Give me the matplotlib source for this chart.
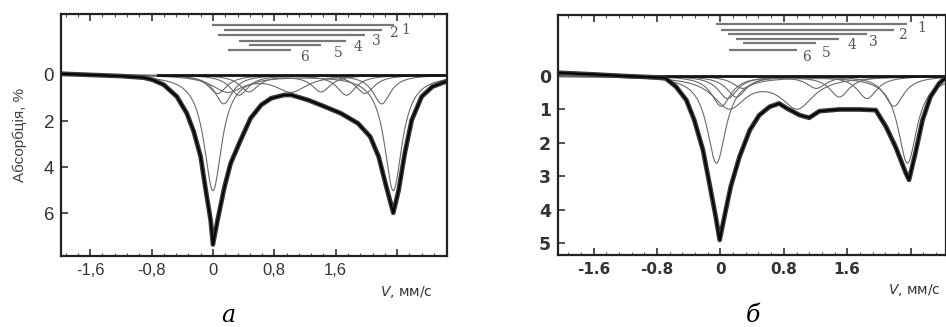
import numpy as np
import matplotlib
matplotlib.use("Agg")
import matplotlib.pyplot as plt
from matplotlib.ticker import FixedLocator, MultipleLocator

plt.rcParams['font.family'] = ['DejaVu Sans']

# ---------------- panel a data ----------------
a_env_v = [-1.98, -1.6, -1.2, -0.9, -0.78, -0.64, -0.47, -0.34, -0.25, -0.16, -0.1,
           -0.03, 0.0, 0.06, 0.15, 0.23, 0.36, 0.49, 0.63, 0.76, 0.93, 1.02, 1.24,
           1.46, 1.67, 1.89, 2.05, 2.16, 2.26, 2.35, 2.42, 2.5, 2.59, 2.72, 2.86, 3.05]
a_env_abs = [-0.05, 0.0, 0.05, 0.12, 0.22, 0.43, 0.94, 1.67, 2.46, 3.55, 4.86,
             6.3, 7.35, 6.3, 4.86, 3.84, 2.83, 1.88, 1.3, 1.01, 0.87, 0.87, 1.09,
             1.38, 1.67, 2.1, 2.68, 3.55, 4.86, 5.98, 5.0, 3.4, 1.96, 0.94, 0.51, 0.27]
a_left = [0.0, 0.14, 0.06, 0.34, 0.47, 0.19]
a_right = [2.35, 2.2, 1.98, 1.74, 1.41, 1.02]
a_depth = [5.0, 1.25, 0.8, 0.87, 0.72, 0.7]
a_fwhm = [0.28, 0.28, 0.3, 0.3, 0.3, 0.5]
a_stick_y = [-2.17, -1.93, -1.74, -1.49, -1.3, -1.06]
a_stick_x0 = [-0.01, 0.14, 0.06, 0.34, 0.47, 0.19]
a_stick_x1 = [2.36, 2.2, 1.98, 1.74, 1.41, 1.02]
a_lab_x = [2.46, 2.29, 2.07, 1.83, 1.57, 1.14]
a_lab_y = [-1.96, -1.81, -1.45, -1.23, -0.97, -0.79]
a_xticklabels = ["-1,6", "-0,8", "0", "0,8", "1,6", ""]

# ---------------- panel b data ----------------
b_env_v = [-2.05, -1.6, -1.2, -0.7, -0.56, -0.43, -0.33, -0.22, -0.14, -0.06, -0.01,
           0.05, 0.13, 0.24, 0.37, 0.49, 0.62, 0.74, 0.84, 1.0, 1.12, 1.25, 1.5,
           1.75, 1.96, 2.09, 2.21, 2.34, 2.38, 2.46, 2.55, 2.65, 2.76, 2.84]
b_env_abs = [-0.1, -0.05, 0.0, 0.05, 0.32, 0.72, 1.32, 2.22, 3.21, 4.21, 4.91,
             4.21, 3.31, 2.42, 1.62, 1.17, 0.92, 0.82, 0.97, 1.17, 1.25, 1.05, 1.0,
             1.0, 1.02, 1.52, 2.12, 2.91, 3.11, 2.31, 1.32, 0.62, 0.22, 0.05]
b_left = [-0.05, 0.01, 0.09, 0.2, 0.28, 0.11]
b_right = [2.36, 2.19, 1.85, 1.5, 1.21, 0.97]
b_depth = [2.6, 0.9, 0.67, 0.62, 0.36, 0.92]
b_fwhm = [0.29, 0.3, 0.3, 0.3, 0.3, 0.5]
b_stick_y = [-1.55, -1.38, -1.25, -1.11, -0.98, -0.78]
b_stick_x0 = [-0.05, 0.01, 0.09, 0.2, 0.28, 0.11]
b_stick_x1 = [2.36, 2.19, 1.85, 1.5, 1.21, 0.97]
b_lab_x = [2.48, 2.24, 1.88, 1.6, 1.28, 1.03]
b_lab_y = [-1.43, -1.23, -1.03, -0.93, -0.7, -0.56]
b_xticklabels = ["-1.6", "-0.8", "0", "0.8", "1.6", ""]

stick_names = ["1", "2", "3", "4", "5", "6"]
xticks = [-1.6, -0.8, 0.0, 0.8, 1.6, 2.4]

W, H = 946, 327
fig = plt.figure(figsize=(W / 100, H / 100), dpi=100)


def lorentz_doublet(v, c1, c2, d, w):
    g = (w / 2.0) ** 2
    return d * g / ((v - c1) ** 2 + g) + d * g / ((v - c2) ** 2 + g)


def panel(rect, xlim, ylim, env_v, env_abs, left, right, depth, fwhm,
          sy, sx0, sx1, lx, ly, xtl, yticks, tick_fs, ytick_fs, bold, fam):
    ax = fig.add_axes(rect)
    v = np.linspace(xlim[0], xlim[1], 1500)
    for c1, c2, d, w in zip(left, right, depth, fwhm):
        ax.plot(v, lorentz_doublet(v, c1, c2, d, w), color="#6a6a6a", lw=0.8)
    ax.axhline(0, xmin=0.25, xmax=1.0, color="#111111", lw=2.0)
    ax.plot(env_v, env_abs, color="#3a3a3a", lw=3.4, solid_joinstyle="round")
    ax.plot(env_v, env_abs, color="#000000", lw=1.3)
    for y, x0, x1 in zip(sy, sx0, sx1):
        ax.plot([x0, x1], [y, y], color="#777777", lw=1.6, solid_capstyle="butt")
    for x, y, s in zip(lx, ly, stick_names):
        ax.text(x, y, s, fontsize=10, color="#555555", family="DejaVu Serif",
                ha="left", va="center")
    ax.set_xlim(*xlim)
    ax.set_ylim(*ylim)
    ax.xaxis.set_major_locator(FixedLocator(xticks))
    ax.set_xticklabels(xtl, fontsize=tick_fs, color="#333333", family=fam,
                       fontweight="bold" if bold else "normal")
    ax.xaxis.set_minor_locator(MultipleLocator(0.16))
    ax.set_yticks(yticks)
    ax.set_yticklabels([str(t) for t in yticks], fontsize=ytick_fs, color="#333333",
                       family=fam, fontweight="bold" if bold else "normal")
    ax.tick_params(axis="both", which="major", direction="in", length=5, width=1.2,
                   top=True, pad=5, color="#333333")
    ax.tick_params(axis="both", which="minor", direction="in", length=2.5, width=0.8,
                   top=True, color="#555555")
    for sp in ax.spines.values():
        sp.set_linewidth(1.6)
        sp.set_color("#222222")
    return ax


ax1 = panel([61 / W, 1 - 256 / H, 386 / W, (256 - 14) / H], (-1.98, 3.05), (7.85, -2.64),
            a_env_v, a_env_abs, a_left, a_right, a_depth, a_fwhm,
            a_stick_y, a_stick_x0, a_stick_x1, a_lab_x, a_lab_y, a_xticklabels,
            [0, 2, 4, 6], 12, 13.5, False, "Liberation Sans")
ax1.set_ylabel("Абсорбція, %", fontsize=11, color="#444444", labelpad=12,
               family="Liberation Sans")

ax2 = panel([558 / W, 1 - 255 / H, 387.5 / W, (255 - 15) / H], (-2.05, 2.84), (5.36, -1.83),
            b_env_v, b_env_abs, b_left, b_right, b_depth, b_fwhm,
            b_stick_y, b_stick_x0, b_stick_x1, b_lab_x, b_lab_y, b_xticklabels,
            [0, 1, 2, 3, 4, 5], 11, 12.5, True, "DejaVu Sans")

fig.text(380 / W, 1 - 292 / H, "$V$, мм/с", fontsize=10, color="#333333", va="center", ha="left")
fig.text(888 / W, 1 - 290 / H, "$V$, мм/с", fontsize=10, color="#333333", va="center", ha="left")
fig.text(228 / W, 1 - 316 / H, "а", fontsize=17, style="italic", family="DejaVu Serif",
         ha="center", va="center")
fig.text(753 / W, 1 - 316 / H, "б", fontsize=17, style="italic", family="DejaVu Serif",
         ha="center", va="center")

fig.savefig("out.png", dpi=100)
